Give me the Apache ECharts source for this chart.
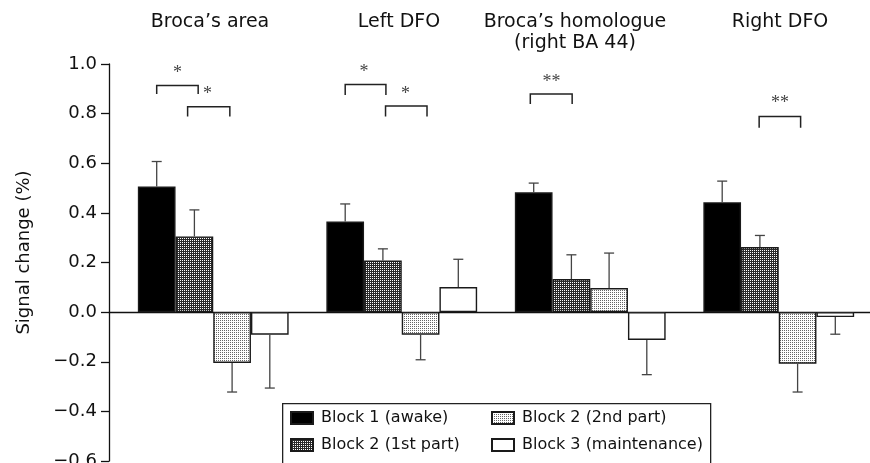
<!DOCTYPE html>
<html><head><meta charset="utf-8">
<script src="https://cdn.jsdelivr.net/npm/echarts@6/dist/echarts.min.js"></script>
<style>html,body{margin:0;padding:0;background:#fff}#c{width:870px;height:463px}</style>
</head><body><div id="c"></div>
<script>
// ---- data ----
const regions = ["Broca’s area", "Left DFO", "Broca’s homologue\n(right BA 44)", "Right DFO"];
const seriesNames = ['Block 1 (awake)', 'Block 2 (1st part)', 'Block 2 (2nd part)', 'Block 3 (maintenance)'];
const block1  = [0.506, 0.365, 0.483, 0.443];
const block2a = [0.305, 0.208, 0.133, 0.262];
const block2b = [-0.205, -0.091, 0.097, -0.208];
const block3  = [-0.091, 0.101, -0.112, -0.020];
const errBlock1  = [0.101, 0.071, 0.037, 0.085];
const errBlock2a = [0.107, 0.047, 0.098, 0.047];
const errBlock2b = [0.117, 0.101, 0.141, 0.114];
const errBlock3  = [0.215, 0.112, 0.140, 0.069];
const yTicks = [-0.6, -0.4, -0.2, 0.0, 0.2, 0.4, 0.6, 0.8, 1.0];
// significance brackets (region index, from bar, to bar, top, leg end, label, label bar pos, label y)
const sigRegion = [0, 0, 1, 1, 2, 3];
const sigFrom   = [0, 0.82, 0, 1.07, -0.09, 0.98];
const sigTo     = [1.1, 1.94, 1.08, 2.17, 1.02, 2.08];
const sigTop    = [0.913, 0.828, 0.917, 0.831, 0.879, 0.788];
const sigLeg    = [0.879, 0.788, 0.875, 0.788, 0.839, 0.743];
const sigLabel  = ['*', '*', '*', '*', '**', '**'];
const sigLabelX = [0.55, 1.35, 0.5, 1.6, 0.47, 1.53];
const sigLabelY = [0.972, 0.888, 0.973, 0.888, 0.936, 0.848];

// ---- styling ----
const FONT = 'DejaVu Sans';
function pattern(bg, fg) {
  const c = document.createElement('canvas');
  c.width = 2; c.height = 2;
  const g = c.getContext('2d');
  g.fillStyle = bg; g.fillRect(0, 0, 2, 2);
  g.fillStyle = fg; g.fillRect(0, 0, 1, 1);
  return { image: c, repeat: 'repeat' };
}
const fills = ['#000', pattern('#2a2a2a', '#ffffff'), pattern('#ffffff', '#666666'), '#fff'];
const values = [block1, block2a, block2b, block3];
const errs = [errBlock1, errBlock2a, errBlock2b, errBlock3];
const BAR_FRAC = 0.2;

const barSeries = seriesNames.map((n, i) => ({
  name: n, type: 'bar', data: values[i],
  barWidth: (BAR_FRAC * 100) + '%', barGap: '0%',
  itemStyle: { color: fills[i], borderColor: '#1a1a1a', borderWidth: 1.4 },
  emphasis: { disabled: true }, z: 2
}));

const errData = [];
values.forEach((arr, s) => arr.forEach((v, c) => errData.push([c, v, errs[s][c], s])));

const errSeries = {
  type: 'custom', name: 'err', data: errData, encode: { x: 0, y: 1 }, z: 3, silent: true,
  renderItem(params, api) {
    const c = api.value(0), v = api.value(1), e = api.value(2), s = api.value(3);
    const p0 = api.coord([c, v]);
    const p1 = api.coord([c, v + (v >= 0 ? e : -e)]);
    const bw = api.size([1, 0])[0] * BAR_FRAC;
    const x = p0[0] + (s - 1.5) * bw;
    const st = { stroke: '#444', lineWidth: 1.3 };
    return { type: 'group', children: [
      { type: 'line', shape: { x1: x, y1: p0[1], x2: x, y2: p1[1] }, style: st },
      { type: 'line', shape: { x1: x - 5, y1: p1[1], x2: x + 5, y2: p1[1] }, style: st }
    ]};
  }
};

const sigData = sigRegion.map((r, i) => [r, sigTop[i]]);
const sigSeries = {
  type: 'custom', name: 'sig', data: sigData, encode: { x: 0, y: 1 }, z: 3, silent: true,
  renderItem(params, api) {
    const i = params.dataIndex;
    const r = sigRegion[i];
    const center = api.coord([r, 0])[0];
    const bw = api.size([1, 0])[0] * BAR_FRAC;
    const px = b => center + (b - 1.5) * bw;
    const yT = api.coord([r, sigTop[i]])[1];
    const yL = api.coord([r, sigLeg[i]])[1];
    const yS = api.coord([r, sigLabelY[i]])[1];
    const x0 = px(sigFrom[i]), x1 = px(sigTo[i]);
    return { type: 'group', children: [
      { type: 'polyline', shape: { points: [[x0, yL], [x0, yT], [x1, yT], [x1, yL]] },
        style: { stroke: '#222', lineWidth: 1.5, fill: null } },
      { type: 'text', style: { x: px(sigLabelX[i]), y: yS + 2, text: sigLabel[i], textAlign: 'center',
        textVerticalAlign: 'middle', font: '18px "Liberation Serif"', fill: '#444' } }
    ]};
  }
};

const chart = echarts.init(document.getElementById('c'), null, { renderer: 'canvas' });
const titleX = [210, 399, 575, 780];
const legendText = { fontFamily: FONT, fontSize: 16, color: '#111', padding: [0, 0, 0, 3] };
chart.setOption({
  animation: false,
  backgroundColor: '#fff',
  grid: [
    { left: 119, width: 754, top: 64, bottom: 2, outerBoundsMode: 'none', containLabel: false },
    { left: 109, right: 0, top: 64, bottom: 2, outerBoundsMode: 'none', containLabel: false }
  ],
  xAxis: [
    { type: 'category', data: regions, gridIndex: 0, show: false },
    { type: 'value', gridIndex: 1, min: 0, max: 1, axisLine: { show: true, onZero: true, lineStyle: { color: '#111', width: 1.3 } },
      axisTick: { show: false }, axisLabel: { show: false }, splitLine: { show: false } }
  ],
  yAxis: [
    { type: 'value', gridIndex: 0, min: -0.6, max: 1.0, interval: 0.2, offset: 10,
      name: 'Signal change (%)', nameLocation: 'middle', nameGap: 76,
      nameTextStyle: { fontFamily: FONT, fontSize: 18, color: '#111', padding: [0, 0, 0, 20] },
      axisLine: { show: true, lineStyle: { color: '#111', width: 1.3 } },
      axisTick: { show: true, length: 8, lineStyle: { color: '#111', width: 1.3 } },
      axisLabel: { margin: 12, fontFamily: FONT, fontSize: 18, color: '#111',
        formatter: v => { const t = yTicks.find(k => Math.abs(k - v) < 1e-9); const s = (t === undefined ? v : t).toFixed(1); return s.replace('-', '\u2212'); } },
      splitLine: { show: false } },
    { type: 'value', gridIndex: 1, min: -0.6, max: 1.0, show: false }
  ],
  legend: [
    { data: [seriesNames[0], seriesNames[1]], orient: 'vertical', left: 290, top: 410, icon: 'rect',
      itemWidth: 22, itemHeight: 12, itemGap: 11, padding: 0, selectedMode: false, textStyle: legendText },
    { data: [seriesNames[2], seriesNames[3]], orient: 'vertical', left: 491, top: 410, icon: 'rect',
      itemWidth: 22, itemHeight: 12, itemGap: 11, padding: 0, selectedMode: false, textStyle: legendText }
  ],
  graphic: [
    { type: 'rect', left: 282, top: 403, z: 0, shape: { width: 428, height: 70 },
      style: { fill: '#fff', stroke: '#222', lineWidth: 1.3 } },
    ...regions.map((t, i) => ({ type: 'text', x: titleX[i], y: 11, z: 10,
      style: { text: t, textAlign: 'center', textVerticalAlign: 'top', font: '19px "DejaVu Sans"', lineHeight: 21.5, fill: '#111' } }))
  ],
  series: [...barSeries, errSeries, sigSeries]
});
</script></body></html>
